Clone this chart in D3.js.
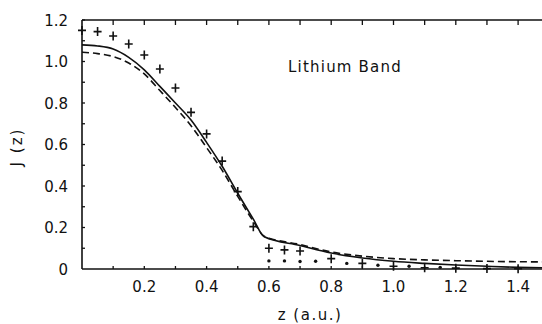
<!DOCTYPE html>
<html>
<head>
<meta charset="utf-8">
<script src="https://cdn.jsdelivr.net/npm/d3@7"></script>
<style>
  body { margin: 0; background: #fff; }
  svg { display: block; }
  text { font-family: "DejaVu Sans", "Liberation Sans", sans-serif; fill: #111; }
</style>
</head>
<body>
<div id="chart"></div>
<script>
// solid curve
const solidZ = [0, 0.05, 0.1, 0.15, 0.2, 0.25, 0.3, 0.35, 0.4, 0.45, 0.5, 0.55, 0.585, 0.7, 0.8, 0.9, 1.0, 1.1, 1.2, 1.3, 1.4, 1.5];
const solidJ = [1.08, 1.075, 1.06, 1.02, 0.96, 0.88, 0.80, 0.718, 0.61, 0.495, 0.365, 0.24, 0.155, 0.113, 0.077, 0.053, 0.037, 0.027, 0.019, 0.013, 0.008, 0.005];
// dashed curve
const dashZ = [0, 0.05, 0.1, 0.15, 0.2, 0.25, 0.3, 0.35, 0.4, 0.45, 0.5, 0.55, 0.585, 0.7, 0.8, 0.9, 1.0, 1.1, 1.2, 1.3, 1.4, 1.5];
const dashJ = [1.045, 1.038, 1.024, 0.993, 0.94, 0.86, 0.778, 0.69, 0.585, 0.475, 0.35, 0.23, 0.158, 0.118, 0.082, 0.062, 0.05, 0.044, 0.04, 0.037, 0.035, 0.034];
// crosses (experiment)
const crossZ = [0, 0.05, 0.1, 0.15, 0.2, 0.25, 0.3, 0.35, 0.4, 0.45, 0.5, 0.55, 0.6, 0.65, 0.7, 0.8, 0.9, 1.0, 1.1, 1.2, 1.3, 1.4];
const crossJ = [1.15, 1.144, 1.123, 1.084, 1.031, 0.964, 0.872, 0.755, 0.651, 0.52, 0.373, 0.204, 0.1, 0.092, 0.087, 0.05, 0.027, 0.013, 0.006, 0.004, 0.002, 0.001];
// dots
const dotZ = [0.6, 0.65, 0.7, 0.75, 0.85, 0.95, 1.05, 1.15];
const dotJ = [0.039, 0.039, 0.036, 0.037, 0.027, 0.018, 0.013, 0.008];

const xLabels = [0.2, 0.4, 0.6, 0.8, 1.0, 1.2, 1.4];
const yLabels = [0, 0.2, 0.4, 0.6, 0.8, 1.0, 1.2];

const W = 542, H = 324;
const margin = { top: 20, left: 82, bottom: 55 };

const svg = d3.select("#chart").append("svg")
  .attr("width", W).attr("height", H);

const x = d3.scaleLinear().domain([0, 1.5]).range([margin.left, margin.left + 1.5 * 311.5]);
const y = d3.scaleLinear().domain([0, 1.2]).range([H - margin.bottom, margin.top]);

const minor = d3.range(0, 1.51, 0.1).map(d => +d.toFixed(1));
const yMinor = d3.range(0, 1.21, 0.1).map(d => +d.toFixed(1));

// frame lines
svg.append("line")
  .attr("x1", x(0)).attr("x2", W).attr("y1", y(0)).attr("y2", y(0))
  .attr("stroke", "#111").attr("stroke-width", 1.6);
svg.append("line")
  .attr("x1", x(0)).attr("x2", W).attr("y1", y(1.2)).attr("y2", y(1.2))
  .attr("stroke", "#111").attr("stroke-width", 1.4);
svg.append("line")
  .attr("x1", x(0)).attr("x2", x(0)).attr("y1", y(0)).attr("y2", y(1.2))
  .attr("stroke", "#111").attr("stroke-width", 1.6);

// inward ticks
svg.append("g").selectAll("line").data(minor.filter(d => d > 0)).enter().append("line")
  .attr("x1", d => x(d)).attr("x2", d => x(d))
  .attr("y1", y(0)).attr("y2", y(0) - 3)
  .attr("stroke", "#111").attr("stroke-width", 1.3);
svg.append("g").selectAll("line").data(minor.filter(d => d > 0)).enter().append("line")
  .attr("x1", d => x(d)).attr("x2", d => x(d))
  .attr("y1", y(1.2)).attr("y2", y(1.2) + 5)
  .attr("stroke", "#111").attr("stroke-width", 1.3);
svg.append("g").selectAll("line").data(yMinor.filter(d => d > 0)).enter().append("line")
  .attr("x1", x(0)).attr("x2", x(0) + 3)
  .attr("y1", d => y(d)).attr("y2", d => y(d))
  .attr("stroke", "#111").attr("stroke-width", 1.3);

// tick labels
svg.append("g").selectAll("text").data(xLabels).enter().append("text")
  .attr("x", d => x(d)).attr("y", y(0) + 23)
  .attr("text-anchor", "middle")
  .style("font-size", "15px")
  .text(d => d.toFixed(1));
svg.append("g").selectAll("text").data(yLabels).enter().append("text")
  .attr("x", x(0) - 14).attr("y", d => y(d) + 5.5)
  .attr("text-anchor", "end")
  .style("font-size", "15px")
  .text(d => d === 0 ? "0" : d.toFixed(1));

// axis titles
svg.append("text")
  .attr("x", 310).attr("y", 320)
  .attr("text-anchor", "middle")
  .style("font-size", "15px")
  .style("letter-spacing", "1.5px")
  .text("z (a.u.)");
svg.append("text")
  .attr("transform", "translate(22,147) rotate(-90)")
  .attr("text-anchor", "middle")
  .style("font-size", "15px")
  .style("letter-spacing", "2px")
  .text("J (z)");
svg.append("text")
  .attr("x", 345).attr("y", 72)
  .attr("text-anchor", "middle")
  .style("font-size", "15px")
  .style("letter-spacing", "1.2px")
  .text("Lithium Band");

// curves
const line = d3.line().x(d => x(d[0])).y(d => y(d[1])).curve(d3.curveMonotoneX);
svg.append("path")
  .datum(solidZ.map((z, i) => [z, solidJ[i]]))
  .attr("fill", "none").attr("stroke", "#111").attr("stroke-width", 1.6)
  .attr("d", line);
svg.append("path")
  .datum(dashZ.map((z, i) => [z, dashJ[i]]))
  .attr("fill", "none").attr("stroke", "#111").attr("stroke-width", 1.6)
  .attr("stroke-dasharray", "7,4")
  .attr("d", line);

// crosses
svg.append("g").selectAll("path")
  .data(crossZ.map((z, i) => [z, crossJ[i]])).enter().append("path")
  .attr("transform", d => `translate(${x(d[0])},${y(d[1])})`)
  .attr("d", "M-4,0H4M0,-4.5V4.5")
  .attr("stroke", "#111").attr("stroke-width", 1.6);

// dots
svg.append("g").selectAll("circle")
  .data(dotZ.map((z, i) => [z, dotJ[i]])).enter().append("circle")
  .attr("cx", d => x(d[0])).attr("cy", d => y(d[1]))
  .attr("r", 1.7).attr("fill", "#111");
</script>
</body>
</html>
